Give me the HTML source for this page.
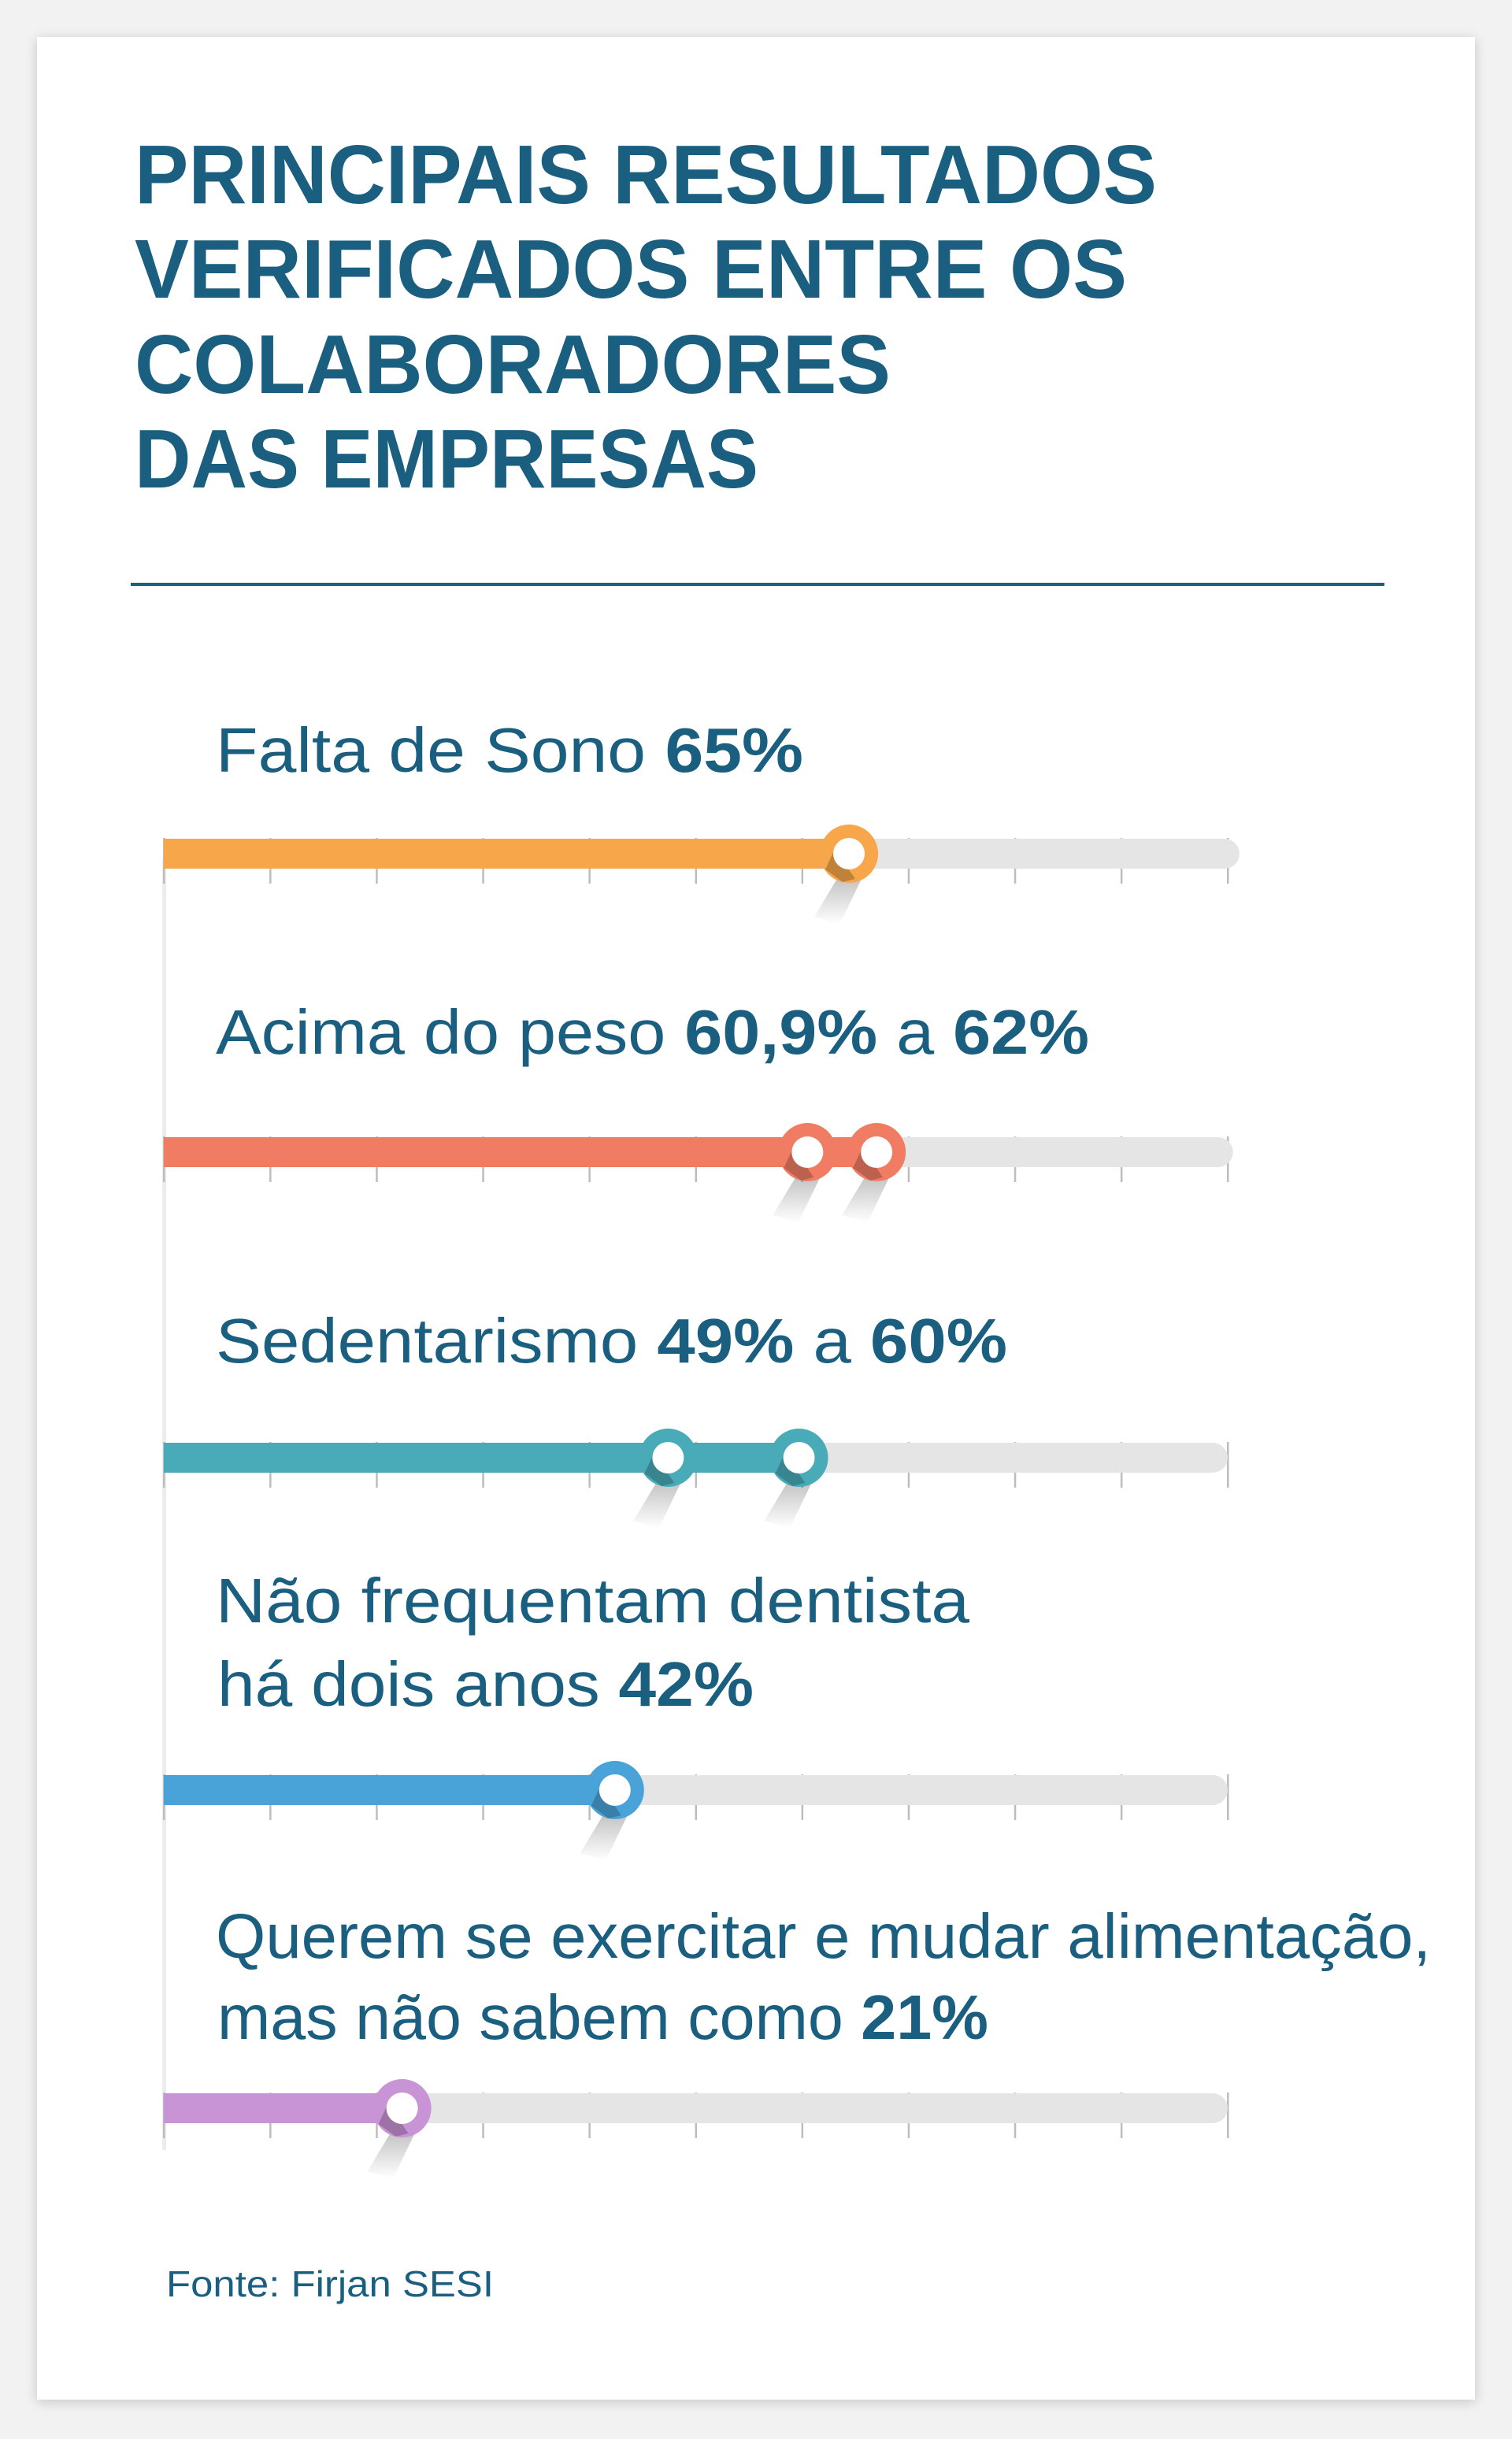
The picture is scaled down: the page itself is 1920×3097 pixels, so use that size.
<!DOCTYPE html>
<html><head><meta charset="utf-8"><style>
html,body{margin:0;padding:0;background:#f2f2f2;}
svg{display:block;font-family:"Liberation Sans",sans-serif;}
</style></head><body>
<svg id="chart" width="1920" height="3097" viewBox="0 0 1920 3097" xmlns="http://www.w3.org/2000/svg">
<defs>
<filter id="sh" x="-5%" y="-5%" width="110%" height="110%"><feGaussianBlur stdDeviation="8"/></filter>
<linearGradient id="kshadow" x1="0" y1="0" x2="0" y2="1"><stop offset="0" stop-color="#000" stop-opacity="0.35"/><stop offset="1" stop-color="#000" stop-opacity="0"/></linearGradient>
</defs>
<rect x="47" y="50" width="1826" height="3000" fill="#000" opacity="0.18" filter="url(#sh)"/>
<rect x="47" y="47" width="1826" height="3000" fill="#fff"/>
<g fill="#1a5e80" font-weight="bold" font-size="106">
<text x="171" y="258" textLength="1298" lengthAdjust="spacingAndGlyphs">PRINCIPAIS RESULTADOS</text>
<text x="171" y="378" textLength="1260" lengthAdjust="spacingAndGlyphs">VERIFICADOS ENTRE OS</text>
<text x="171" y="499" textLength="960" lengthAdjust="spacingAndGlyphs">COLABORADORES</text>
<text x="171" y="619" textLength="792" lengthAdjust="spacingAndGlyphs">DAS EMPRESAS</text>
</g>
<rect x="166" y="740" width="1592" height="4" fill="#1a5e80"/>
<rect x="206" y="1090" width="5" height="1640" fill="#ececec"/>
<g id="bars"></g>
<g fill="#1a5e80" font-size="80">
<text x="274" y="980" textLength="746" lengthAdjust="spacingAndGlyphs">Falta de Sono  <tspan font-weight="bold">65%</tspan></text>
<text x="274" y="1338" textLength="1109" lengthAdjust="spacingAndGlyphs">Acima do peso <tspan font-weight="bold">60,9%</tspan> a <tspan font-weight="bold">62%</tspan></text>
<text x="274" y="1730" textLength="1005" lengthAdjust="spacingAndGlyphs">Sedentarismo <tspan font-weight="bold">49%</tspan> a <tspan font-weight="bold">60%</tspan></text>
<text x="274" y="2060" textLength="957" lengthAdjust="spacingAndGlyphs">Não frequentam dentista</text>
<text x="276" y="2166" textLength="681" lengthAdjust="spacingAndGlyphs">há dois anos <tspan font-weight="bold">42%</tspan></text>
<text x="274" y="2486" textLength="1543" lengthAdjust="spacingAndGlyphs">Querem se exercitar e mudar alimentação,</text>
<text x="276" y="2589" textLength="979" lengthAdjust="spacingAndGlyphs">mas não sabem como <tspan font-weight="bold">21%</tspan></text>
</g>
<text x="211" y="2916" fill="#1a5e80" font-size="46" textLength="416" lengthAdjust="spacingAndGlyphs">Fonte: Firjan SESI</text>
</svg>
<script>
const categories = ["Falta de Sono", "Acima do peso", "Sedentarismo", "Não frequentam dentista", "Querem se exercitar"];
const startValues = [null, 60.5, 47.4, null, null];
const endValues = [64.4, 67, 59.7, 42.4, 22.4];
const trackEnds = [101.1, 100.5, 100, 100, 100];
const colors = ["#f7a64a", "#f07d63", "#4aabb8", "#4aa3d8", "#c994d6"];
const rowCenters = [1084, 1463, 1851, 2273, 2677];
const tickValues = [0,10,20,30,40,50,60,70,80,90,100];

const NS = "http://www.w3.org/2000/svg";
const x = v => 208 + v * 13.51;
const g = document.getElementById('bars');
function mk(tag, attrs, parent) {
  const e = document.createElementNS(NS, tag);
  for (const k in attrs) e.setAttribute(k, attrs[k]);
  parent.appendChild(e);
  return e;
}
function knob(cx, cy, color, parent) {
  const k = mk('g', {}, parent);
  
  
  mk('polygon', {points: `${cx-14},${cy+30} ${cx+18},${cy+28} ${cx-12},${cy+90} ${cx-44},${cy+80}`, fill: 'url(#kshadow)', opacity: 0.7}, k);
  mk('circle', {cx: cx, cy: cy, r: 37, fill: color}, k);
  mk('polygon', {points: `${cx-30},${cy+20} ${cx-18},${cy-6} ${cx+8},${cy+32} ${cx-8},${cy+36}`, fill: '#000', opacity: 0.22}, k);
  mk('circle', {cx: cx, cy: cy, r: 20, fill: '#fff'}, k);
}
categories.forEach((c, i) => {
  const cy = rowCenters[i];
  const row = mk('g', {}, g);
  
  
  tickValues.forEach(t => {
    const tk = mk('rect', {x: x(t) - 1, y: cy - 20, width: 2.5, height: 58, fill: '#bdbdbd'}, row);
    
    
  });
  const tr = mk('rect', {x: x(0), y: cy - 19, width: x(trackEnds[i]) - x(0), height: 38, rx: 19, fill: '#e5e5e5'}, row);
  
  
  mk('rect', {x: x(0), y: cy - 19, width: 30, height: 38, fill: '#e5e5e5'}, row);
  const fl = mk('rect', {x: x(0), y: cy - 19, width: x(endValues[i]) - x(0), height: 38, fill: colors[i]}, row);
  
  
  if (startValues[i] !== null) knob(x(startValues[i]), cy, colors[i], row);
  knob(x(endValues[i]), cy, colors[i], row);
});
</script>
</body></html>
